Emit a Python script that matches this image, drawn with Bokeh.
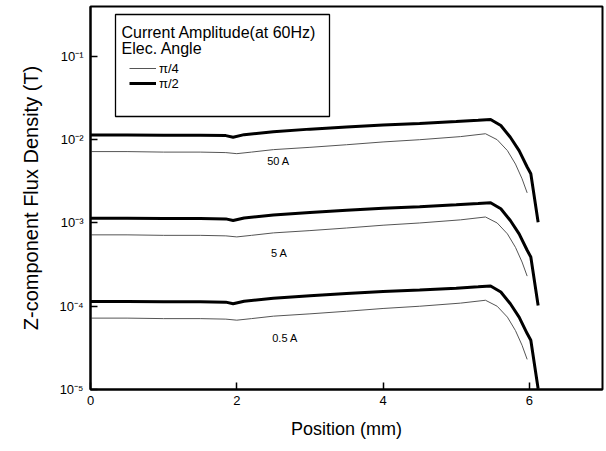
from bokeh.plotting import figure
from bokeh.models import (Range1d, FixedTicker, Legend, LegendItem, BoxAnnotation,
                          Label, ColumnDataSource)
from bokeh.core.properties import value
from bokeh.embed import file_html
from bokeh.resources import INLINE

# ---- data ----
x_pi2 = [0.0, 0.5, 1.0, 1.5, 1.85, 1.95, 2.1, 2.5, 3.0, 3.5, 4.0, 4.5, 5.0, 5.3, 5.47,
         5.61, 5.74, 5.86, 5.97, 6.02, 6.12]
b50_pi2 = [0.0114, 0.0114, 0.0113, 0.0113, 0.0112, 0.0107, 0.0115, 0.0125, 0.0134, 0.0142,
           0.0150, 0.0157, 0.0165, 0.0171, 0.0175, 0.0148, 0.0107, 0.0074, 0.0047, 0.0039, 0.00102]
b5_pi2 = [0.00114, 0.00114, 0.00113, 0.00113, 0.00112, 0.00107, 0.00115, 0.00125, 0.00134, 0.00142,
          0.00150, 0.00157, 0.00165, 0.00171, 0.00175, 0.00148, 0.00107, 0.00074, 0.00047, 0.00039, 0.000102]
b05_pi2 = [0.000114, 0.000114, 0.000113, 0.000113, 0.000112, 0.000107, 0.000115, 0.000125, 0.000134,
           0.000142, 0.000150, 0.000157, 0.000165, 0.000171, 0.000175, 0.000148, 0.000107, 0.000074,
           0.000047, 0.000039, 0.0000102]

x_pi4 = [0.0, 0.5, 1.0, 1.5, 1.85, 2.0, 2.2, 2.5, 3.0, 3.5, 4.0, 4.5, 5.06, 5.40, 5.56,
         5.70, 5.81, 5.90, 5.97]
b50_pi4 = [0.0072, 0.0072, 0.0071, 0.0071, 0.0070, 0.0068, 0.0071, 0.0076, 0.0081, 0.0087,
           0.0094, 0.0100, 0.0109, 0.0118, 0.0100, 0.0074, 0.0051, 0.0034, 0.0023]
b5_pi4 = [0.00072, 0.00072, 0.00071, 0.00071, 0.00070, 0.00068, 0.00071, 0.00076, 0.00081, 0.00087,
          0.00094, 0.00100, 0.00109, 0.00118, 0.00100, 0.00074, 0.00051, 0.00034, 0.00023]
b05_pi4 = [0.000072, 0.000072, 0.000071, 0.000071, 0.000070, 0.000068, 0.000071, 0.000076, 0.000081,
           0.000087, 0.000094, 0.000100, 0.000109, 0.000118, 0.000100, 0.000074, 0.000051, 0.000034,
           0.000023]

curve_labels = ["50 A", "5 A", "0.5 A"]
curve_label_x = [2.57, 2.58, 2.66]
curve_label_y = [0.0055, 0.00043, 0.000041]

x_ticks = [0, 2, 4, 6]
y_ticks = [1e-5, 1e-4, 1e-3, 1e-2, 1e-1]
y_tick_labels = ["10\u207b\u2075", "10\u207b\u2074", "10\u207b\u00b3", "10\u207b\u00b2", "10\u207b\u00b9"]

legend_title = "Current Amplitude(at 60Hz)"
legend_subtitle = "Elec. Angle"
series_names = ["\u03c0/4", "\u03c0/2"]

FONT = "Liberation Sans"

p = figure(width=604, height=451, output_backend="svg", toolbar_location=None,
           y_axis_type="log", x_range=Range1d(0, 7), y_range=Range1d(1e-5, 0.398),
           min_border_left=90, min_border_right=2, min_border_top=6, min_border_bottom=62)
p.xgrid.visible = False
p.ygrid.visible = False
p.outline_line_color = "black"
p.outline_line_alpha = 1.0
p.outline_line_width = 2
p.background_fill_color = "white"

thin_color = "#555555"
r_thin = []
r_thick = []
for ys in (b50_pi4, b5_pi4, b05_pi4):
    r_thin.append(p.line(x_pi4, ys, line_color=thin_color, line_width=1))
for ys in (b50_pi2, b5_pi2, b05_pi2):
    r_thick.append(p.line(x_pi2, ys, line_color="black", line_width=3))

src = ColumnDataSource(dict(x=curve_label_x, y=curve_label_y, t=curve_labels))
p.text(x="x", y="y", text="t", source=src, text_font=value(FONT), text_font_size="11px",
       text_align="center", text_baseline="middle", text_color="black")

# axes
p.xaxis.ticker = FixedTicker(ticks=x_ticks)
p.yaxis.ticker = FixedTicker(ticks=y_ticks)
p.yaxis.major_label_overrides = {t: l for t, l in zip(y_ticks, y_tick_labels)}
for ax in (p.xaxis[0], p.yaxis[0]):
    ax.axis_line_color = "black"
    ax.axis_line_alpha = 1.0
    ax.axis_line_width = 2
    ax.major_tick_in = 7
    ax.major_tick_out = 0
    ax.major_tick_line_color = "black"
    ax.major_tick_line_width = 1.5
    ax.minor_tick_line_color = None
    ax.major_label_text_font = FONT
    ax.major_label_text_font_size = "13px"
    ax.major_label_text_color = "black"
    ax.axis_label_text_font = FONT
    ax.axis_label_text_font_style = "normal"
    ax.axis_label_text_color = "black"
p.xaxis.axis_label = "Position (mm)"
p.yaxis.axis_label = "Z-component Flux Density (T)"
p.xaxis.axis_label_text_font_size = "18px"
p.yaxis.axis_label_text_font_size = "20px"
p.xaxis.major_label_standoff = 6
p.yaxis.major_label_standoff = 7
p.xaxis.axis_label_standoff = 11
p.yaxis.axis_label_standoff = 14

# legend box
box = BoxAnnotation(left=25, right=239, top=375, bottom=273,
                    left_units="screen", right_units="screen",
                    top_units="screen", bottom_units="screen",
                    fill_color=None, line_color="black", line_alpha=1.0, line_width=1.3)
p.add_layout(box)
p.add_layout(Label(x=31, y=357.3, x_units="screen", y_units="screen", text=legend_title,
                   text_baseline="middle", text_font=FONT, text_font_size="16px",
                   text_color="black"))
p.add_layout(Label(x=31, y=340.7, x_units="screen", y_units="screen", text=legend_subtitle,
                   text_baseline="middle", text_font=FONT, text_font_size="16px",
                   text_color="black"))

for name, rend, ybot in ((series_names[0], r_thin[0], 311), (series_names[1], r_thick[0], 296)):
    leg = Legend(items=[LegendItem(label=name, renderers=[rend])], location=(39, ybot),
                 padding=0, margin=0, spacing=0, border_line_alpha=0, background_fill_alpha=0,
                 glyph_width=27, glyph_height=20, label_height=20, label_standoff=3,
                 label_text_font=FONT, label_text_font_size="13px", label_text_color="black")
    p.add_layout(leg)

open("out.html", "w").write(file_html(p, INLINE))
